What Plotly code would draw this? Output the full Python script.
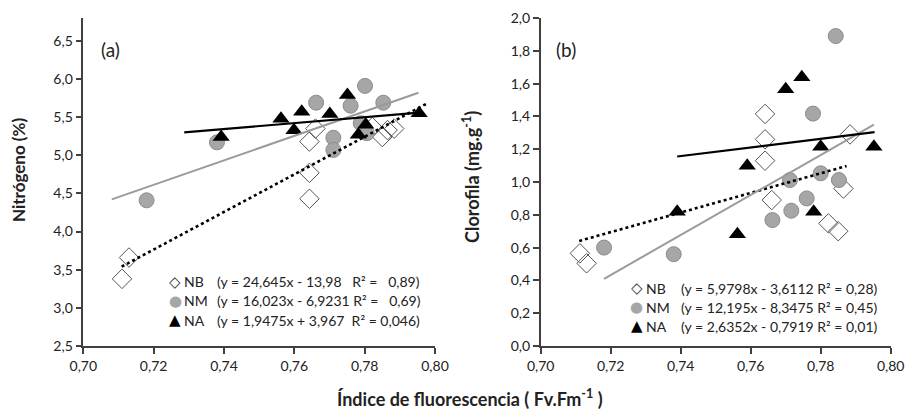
import plotly.graph_objects as go
import numpy as np

# ---------------- data ----------------
series = ["NB", "NM", "NA"]

# Panel (a): Nitrógeno (%)
a_NB_x = [0.711, 0.713, 0.7643, 0.7643, 0.7643, 0.766, 0.7822, 0.785, 0.7865, 0.7884]
a_NB_y = [3.38, 3.66, 4.43, 4.77, 5.18, 5.35, 5.37, 5.24, 5.33, 5.35]
a_NM_x = [0.718, 0.738, 0.7662, 0.7711, 0.7711, 0.776, 0.7789, 0.7801, 0.7806, 0.7853]
a_NM_y = [4.41, 5.17, 5.69, 5.23, 5.07, 5.65, 5.42, 5.91, 5.29, 5.69]
a_NA_x = [0.7392, 0.7562, 0.7599, 0.7621, 0.7701, 0.7751, 0.7782, 0.7803, 0.7955]
a_NA_y = [5.24, 5.48, 5.33, 5.57, 5.54, 5.79, 5.27, 5.40, 5.55]

# Panel (b): Clorofila (mg.g-1)
b_NB_x = [0.7112, 0.7131, 0.7641, 0.7641, 0.7641, 0.766, 0.7822, 0.785, 0.7865, 0.7884]
b_NB_y = [0.565, 0.504, 1.415, 1.26, 1.13, 0.89, 0.748, 0.70, 0.96, 1.29]
b_NM_x = [0.7181, 0.738, 0.7662, 0.7712, 0.7716, 0.776, 0.7778, 0.780, 0.7843, 0.7852]
b_NM_y = [0.60, 0.56, 0.768, 1.012, 0.825, 0.90, 1.417, 1.053, 1.89, 1.012]
b_NA_x = [0.739, 0.7562, 0.759, 0.770, 0.7746, 0.778, 0.780, 0.7952]
b_NA_y = [0.819, 0.681, 1.099, 1.565, 1.638, 0.819, 1.215, 1.215]

# trend lines (slope, intercept, x start, x end) as drawn
a_trend_slope = [24.645, 16.023, 3.847]
a_trend_icpt = [-13.98, -6.9231, 2.498]
a_trend_x0 = [0.7109, 0.7081, 0.7287]
a_trend_x1 = [0.7976, 0.7953, 0.7955]
b_trend_slope = [5.9798, 12.195, 2.6352]
b_trend_icpt = [-3.6112, -8.3475, -0.7919]
b_trend_x0 = [0.711, 0.7181, 0.739]
b_trend_x1 = [0.7874, 0.7952, 0.7954]

a_eq_text = ["(y = 24,645x - 13,98\u00a0\u00a0 R² =\u00a0\u00a0 0,89)",
             "(y = 16,023x - 6,9231 R² =\u00a0\u00a0 0,69)",
             "(y = 1,9475x + 3,967\u00a0 R² = 0,046)"]
b_eq_text = ["(y = 5,9798x - 3,6112 R² = 0,28)",
             "(y = 12,195x - 8,3475 R² = 0,45)",
             "(y = 2,6352x - 0,7919 R² = 0,01)"]

x_ticks = [0.70, 0.72, 0.74, 0.76, 0.78, 0.80]

# ---------------- styles ----------------
FONT = "Lato"
W, H = 908, 414
mk = {
    "NB": dict(symbol="diamond-open", size=15, color="#555", line=dict(color="#555", width=1)),
    "NM": dict(symbol="circle", size=15, color="#a6a6a6", line=dict(color="#8c8c8c", width=1)),
    "NA": dict(symbol="triangle-up", size=15, color="black", line=dict(color="black", width=0)),
}
ln = {
    "NB": dict(color="black", width=2.6, dash="3px,3px"),
    "NM": dict(color="#9a9a9a", width=2),
    "NA": dict(color="black", width=2.2),
}
legend_glyph = {"NB": ("◇", "#333"), "NM": ("●", "#a6a6a6"), "NA": ("▲", "black")}

fig = go.Figure()

panels = [
    ("x", "y", [(a_NB_x, a_NB_y), (a_NM_x, a_NM_y), (a_NA_x, a_NA_y)],
     a_trend_slope, a_trend_icpt, a_trend_x0, a_trend_x1),
    ("x2", "y2", [(b_NB_x, b_NB_y), (b_NM_x, b_NM_y), (b_NA_x, b_NA_y)],
     b_trend_slope, b_trend_icpt, b_trend_x0, b_trend_x1),
]

for xa, ya, data, sl, ic, x0, x1 in panels:
    for name, (xs, ys) in zip(series, data):
        fig.add_trace(go.Scatter(x=xs, y=ys, mode="markers", name=name, marker=mk[name],
                                 xaxis=xa, yaxis=ya, showlegend=False, cliponaxis=False))
    for i, name in enumerate(series):
        tx = np.array([x0[i], x1[i]])
        fig.add_trace(go.Scatter(x=tx, y=sl[i] * tx + ic[i], mode="lines", line=ln[name],
                                 xaxis=xa, yaxis=ya, showlegend=False, hoverinfo="skip"))

def px2fx(px):
    return px / W

def py2fy(py):
    return 1 - py / H

axis_common = dict(showline=True, linecolor="#404040", linewidth=1.5, ticks="outside",
                   ticklen=6, tickwidth=1.5, tickcolor="#404040", showgrid=False, zeroline=False,
                   tickfont=dict(family=FONT, size=14, color="#222"), mirror=False,
                   automargin=False)

fig.update_layout(
    width=W, height=H, margin=dict(l=0, r=0, t=0, b=0, autoexpand=False),
    paper_bgcolor="white", plot_bgcolor="white",
    separators=", ",
    font=dict(family=FONT, color="#222"),
    showlegend=False,
    xaxis=dict(domain=[px2fx(83.3), px2fx(435)], range=[0.70, 0.80], tickvals=x_ticks,
               tickformat=".2f", anchor="y", **axis_common),
    yaxis=dict(domain=[py2fy(346), py2fy(18)], range=[2.5, 6.8], tick0=2.5, dtick=0.5,
               tickformat=".1f", anchor="x", **axis_common),
    xaxis2=dict(domain=[px2fx(540.7), px2fx(890.7)], range=[0.70, 0.80], tickvals=x_ticks,
                tickformat=".2f", anchor="y2", **axis_common),
    yaxis2=dict(domain=[py2fy(346), py2fy(18)], range=[0, 2.0], tick0=0, dtick=0.2,
                tickformat=".1f", anchor="x2", **axis_common),
)

ann = []

def add_legend(rows, sym_x, lab_x, eq_x, eq_texts):
    for name, r, t in zip(series, rows, eq_texts):
        g, c = legend_glyph[name]
        ann.append(dict(text=g, x=px2fx(sym_x), y=py2fy(r), xref="paper", yref="paper",
                        xanchor="center", yanchor="middle", showarrow=False,
                        font=dict(family="DejaVu Sans", size=15, color=c)))
        ann.append(dict(text=name, x=px2fx(lab_x), y=py2fy(r), xref="paper", yref="paper",
                        xanchor="left", yanchor="middle", showarrow=False,
                        font=dict(family=FONT, size=14, color="#222")))
        ann.append(dict(text=t, x=px2fx(eq_x), y=py2fy(r), xref="paper", yref="paper",
                        xanchor="left", yanchor="middle", showarrow=False,
                        font=dict(family=FONT, size=14, color="#222")))

add_legend([281.5, 300.5, 320], 175, 182, 215, a_eq_text)
add_legend([288, 307, 326], 636.5, 644, 679, b_eq_text)

ann += [
    dict(text="(a)", x=px2fx(99), y=py2fy(50), xref="paper", yref="paper", xanchor="left",
         yanchor="middle", showarrow=False, font=dict(family=FONT, size=19, color="#222")),
    dict(text="(b)", x=px2fx(554), y=py2fy(50), xref="paper", yref="paper", xanchor="left",
         yanchor="middle", showarrow=False, font=dict(family=FONT, size=19, color="#222")),
    dict(text="<b>Nitrógeno (%)</b>", x=px2fx(18), y=py2fy(170), xref="paper", yref="paper",
         xanchor="center", yanchor="middle", textangle=-90, showarrow=False,
         font=dict(family=FONT, size=17, color="#222")),
    dict(text="<b>Clorofila (mg.g<sup>-1</sup>)</b>", x=px2fx(471), y=py2fy(177), xref="paper",
         yref="paper", xanchor="center", yanchor="middle", textangle=-90, showarrow=False,
         font=dict(family=FONT, size=18, color="#222")),
    dict(text="<b>Índice de fluorescencia ( Fv.Fm<sup>-1</sup> )</b>", x=px2fx(470), y=py2fy(398),
         xref="paper", yref="paper", xanchor="center", yanchor="middle", showarrow=False,
         font=dict(family=FONT, size=18, color="#222")),
]
fig.update_layout(annotations=ann)

fig.write_html("out.html", config={"displayModeBar": False},
               post_script="document.body.style.margin='0';document.body.style.overflow='hidden';")
